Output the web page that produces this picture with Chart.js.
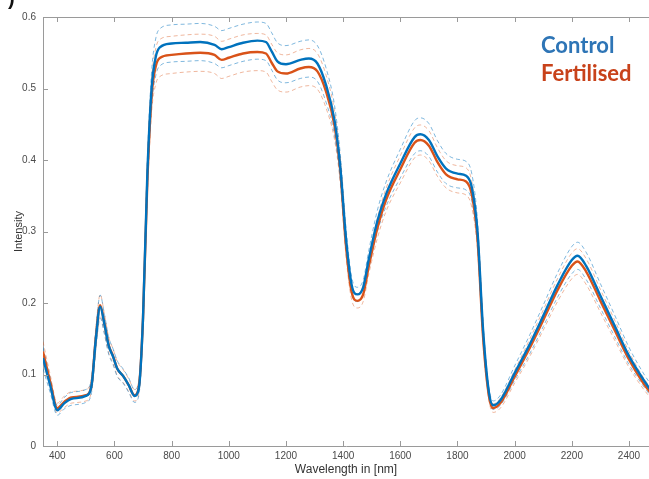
<!DOCTYPE html>
<html lang="en">
  <head>
    <meta charset="UTF-8" />
    <title>spectra</title>
    <script src="https://cdn.jsdelivr.net/npm/chart.js@4.4.0/dist/chart.umd.min.js"></script>
    <style>
      html, body { margin: 0; padding: 0; background: #fff; }
      #wrap { width: 649px; height: 479px; position: relative; }
    </style>
  </head>
  <body>
    <div id="wrap"><canvas id="chart"></canvas></div>
    <script>
      // wavelengths in nm
      const wavelengths = [
        350, 375, 400, 425, 450, 500, 520, 535, 550, 565, 580, 595, 610, 630, 650, 670, 685,
        700, 715, 730, 745, 760, 800, 850, 900, 950, 975, 1000, 1050, 1100, 1130, 1150, 1170,
        1200, 1250, 1280, 1310, 1340, 1370, 1390, 1410, 1430, 1450, 1470, 1490, 1520, 1550, 1600,
        1650, 1670, 1700, 1730, 1760, 1800, 1830, 1850, 1870, 1890, 1910, 1925, 1950, 2000,
        2050, 2100, 2150, 2200, 2220, 2250, 2300, 2350, 2400, 2450, 2480,
      ];

      const controlMean = [
        0.123, 0.085, 0.050, 0.060, 0.066, 0.070, 0.085, 0.150, 0.195, 0.170, 0.140, 0.125, 0.108, 0.098, 0.085, 0.070, 0.080,
        0.180, 0.380, 0.500, 0.545, 0.558, 0.563, 0.564, 0.565, 0.561, 0.555, 0.558, 0.564, 0.567, 0.565, 0.552, 0.538,
        0.534, 0.540, 0.542, 0.535, 0.505, 0.455, 0.390, 0.290, 0.225, 0.212, 0.222, 0.262, 0.315, 0.352, 0.395,
        0.432, 0.436, 0.428, 0.405, 0.388, 0.381, 0.378, 0.362, 0.300, 0.160, 0.075, 0.057, 0.064, 0.102,
        0.140, 0.182, 0.225, 0.260, 0.266, 0.252, 0.210, 0.168, 0.126, 0.093, 0.076,
      ];
      const controlSd = [
        0.015, 0.010, 0.007, 0.008, 0.009, 0.009, 0.010, 0.014, 0.016, 0.014, 0.012, 0.011, 0.011, 0.010, 0.010, 0.009, 0.010,
        0.014, 0.020, 0.024, 0.026, 0.026, 0.026, 0.026, 0.026, 0.026, 0.026, 0.026, 0.026, 0.026, 0.026, 0.026, 0.026,
        0.026, 0.026, 0.026, 0.025, 0.024, 0.021, 0.018, 0.015, 0.011, 0.010, 0.010, 0.012, 0.015, 0.017, 0.020,
        0.023, 0.023, 0.023, 0.022, 0.021, 0.020, 0.020, 0.019, 0.016, 0.010, 0.007, 0.006, 0.007, 0.010,
        0.013, 0.015, 0.017, 0.019, 0.019, 0.019, 0.017, 0.015, 0.012, 0.009, 0.008,
      ];

      const fertMean = [
        0.132, 0.090, 0.053, 0.062, 0.068, 0.071, 0.086, 0.152, 0.197, 0.171, 0.141, 0.126, 0.108, 0.098, 0.085, 0.071, 0.082,
        0.180, 0.370, 0.490, 0.532, 0.543, 0.547, 0.549, 0.550, 0.547, 0.540, 0.543, 0.549, 0.551, 0.549, 0.536, 0.524,
        0.521, 0.528, 0.530, 0.524, 0.496, 0.448, 0.385, 0.280, 0.215, 0.203, 0.212, 0.252, 0.305, 0.344, 0.387,
        0.424, 0.428, 0.420, 0.397, 0.380, 0.373, 0.370, 0.352, 0.290, 0.150, 0.070, 0.053, 0.060, 0.097,
        0.135, 0.176, 0.218, 0.252, 0.258, 0.244, 0.203, 0.162, 0.121, 0.088, 0.072,
      ];
      const fertSd = [
        0.014, 0.010, 0.007, 0.008, 0.008, 0.008, 0.009, 0.013, 0.015, 0.013, 0.011, 0.010, 0.010, 0.009, 0.009, 0.008, 0.009,
        0.013, 0.019, 0.023, 0.025, 0.026, 0.026, 0.026, 0.026, 0.026, 0.026, 0.026, 0.026, 0.026, 0.026, 0.026, 0.026,
        0.026, 0.026, 0.026, 0.025, 0.023, 0.020, 0.017, 0.014, 0.011, 0.010, 0.010, 0.011, 0.014, 0.016, 0.019,
        0.021, 0.021, 0.021, 0.020, 0.019, 0.019, 0.019, 0.018, 0.015, 0.009, 0.006, 0.006, 0.007, 0.009,
        0.012, 0.014, 0.016, 0.018, 0.018, 0.018, 0.016, 0.014, 0.011, 0.008, 0.007,
      ];

      const xTicks = [400, 600, 800, 1000, 1200, 1400, 1600, 1800, 2000, 2200, 2400];

      const blue = "#0072BD";
      const orange = "#D95319";

      const pts = (ys) => ys.map((y, i) => ({ x: wavelengths[i], y }));
      const band = (m, s, sign) => m.map((v, i) => ({ x: wavelengths[i], y: v + sign * s[i] }));

      function solid(label, data, color) {
        return {
          label, data, borderColor: color, borderWidth: 2.4,
          pointRadius: 0, cubicInterpolationMode: "monotone", order: 0,
        };
      }
      function dashed(label, data, color) {
        return {
          label, data, borderColor: color, borderWidth: 1, borderDash: [4, 3],
          pointRadius: 0, cubicInterpolationMode: "monotone", order: 1,
        };
      }

      // matlab-ish inward ticks and top border, plus the coloured legend words
      const decor = {
        id: "decor",
        afterDraw(chart) {
          const { ctx, chartArea: a, scales } = chart;
          ctx.save();
          ctx.strokeStyle = "#9a9a9a";
          ctx.lineWidth = 1;
          ctx.beginPath();
          ctx.moveTo(a.left, a.top + 0.5);
          ctx.lineTo(a.right, a.top + 0.5);
          for (const t of xTicks) {
            const px = Math.round(scales.x.getPixelForValue(t)) + 0.5;
            ctx.moveTo(px, a.bottom);
            ctx.lineTo(px, a.bottom - 5);
            ctx.moveTo(px, a.top);
            ctx.lineTo(px, a.top + 5);
          }
          for (const t of scales.y.ticks) {
            const py = Math.round(scales.y.getPixelForValue(t.value)) + 0.5;
            ctx.moveTo(a.left, py);
            ctx.lineTo(a.left + 5, py);
          }
          ctx.stroke();

          ctx.font = "bold 22px Lato, 'Open Sans', sans-serif";
          ctx.textBaseline = "alphabetic";
          ctx.fillStyle = "#2E75B6";
          ctx.fillText("Control", 541, 53);
          ctx.fillStyle = "#C8421A";
          ctx.fillText("Fertilised", 541, 81);

          ctx.fillStyle = "#111";
          ctx.font = "bold 20px 'Liberation Sans', sans-serif";
          ctx.fillText(")", 8, 5);
          ctx.restore();
        },
      };

      const tickFont = { family: "'Liberation Sans', Arial", size: 10 };

      new Chart(document.getElementById("chart"), {
        type: "line",
        data: {
          datasets: [
            solid("Control", pts(controlMean), blue),
            solid("Fertilised", pts(fertMean), orange),
            dashed("Control +sd", band(controlMean, controlSd, 1), "rgba(0,114,189,0.5)"),
            dashed("Control -sd", band(controlMean, controlSd, -1), "rgba(0,114,189,0.5)"),
            dashed("Fertilised +sd", band(fertMean, fertSd, 1), "rgba(217,83,25,0.42)"),
            dashed("Fertilised -sd", band(fertMean, fertSd, -1), "rgba(217,83,25,0.42)"),
          ],
        },
        options: {
          responsive: true,
          maintainAspectRatio: false,
          animation: false,
          layout: { padding: { top: 17, right: 0, left: 0, bottom: 0 } },
          plugins: { legend: { display: false }, tooltip: { enabled: false } },
          scales: {
            x: {
              type: "linear",
              min: 350,
              max: 2470,
              afterFit: (s) => { s.height = 33; },
              grid: { display: false, drawTicks: false },
              border: { display: true, color: "#9a9a9a" },
              ticks: {
                stepSize: 200, includeBounds: false, padding: 4, maxRotation: 0,
                color: "#4a4a4a", font: tickFont,
                callback: (v) => String(v),
              },
              title: {
                display: true, text: "Wavelength in [nm]", color: "#333",
                font: { family: "'Liberation Sans', Arial", size: 12 },
                padding: { top: 0, bottom: 2 },
              },
            },
            y: {
              min: 0,
              max: 0.6,
              afterFit: (s) => { s.width = 43; },
              grid: { display: false, drawTicks: false },
              border: { display: true, color: "#9a9a9a" },
              ticks: {
                stepSize: 0.1, padding: 7,
                color: "#4a4a4a", font: tickFont,
                callback: (v) => String(+v.toFixed(1)),
              },
              title: {
                display: true, text: "Intensity", color: "#333",
                font: { family: "'Liberation Sans', Arial", size: 11 },
                padding: { top: 12, bottom: 0 },
              },
            },
          },
        },
        plugins: [decor],
      });
    </script>
  </body>
</html>
